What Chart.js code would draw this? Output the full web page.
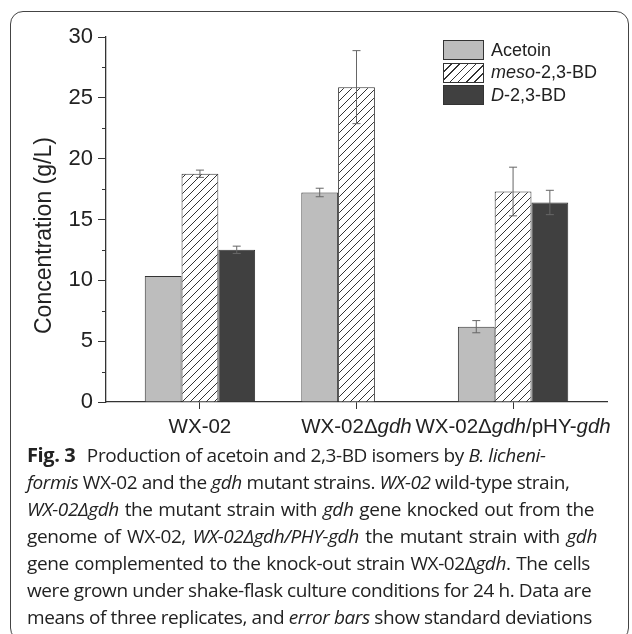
<!DOCTYPE html>
<html>
<head>
<meta charset="utf-8">
<script src="https://cdn.jsdelivr.net/npm/chart.js@4.4.1/dist/chart.umd.min.js"></script>
<style>
  body { margin: 0; background: #fff; width: 632px; height: 634px; overflow: hidden; position: relative; }
  #frame { position: absolute; left: 10px; top: 11px; width: 619px; height: 630px; border: 1.3px solid #444; border-radius: 13px; box-sizing: border-box; }
  #wrap { position: absolute; left: 0; top: 0; width: 632px; height: 445px; }
  #legend { position: absolute; left: 443px; top: 39px; font-family: 'Liberation Sans', Arial, sans-serif; font-size: 18px; color: #222; }
  .row { display: flex; align-items: center; height: 22.5px; }
  .box { width: 41px; height: 20px; border: 1px solid #333; box-sizing: border-box; margin-right: 7px; }
  #caption { position: absolute; left: 27px; top: 441px; font-family: 'Open Sans', sans-serif; font-size: 19px; line-height: 27px; color: #222; white-space: nowrap; letter-spacing: -0.4px; }
  #caption div { text-align: justify; text-align-last: justify; }
  #caption b { font-weight: 700; font-size: 20px; margin-right: 7px; }
</style>
</head>
<body>
<div id="frame"></div>
<div id="wrap"><canvas id="chart"></canvas></div>
<div id="legend">
  <div class="row"><div class="box" style="background:#bdbdbd"></div><span>Acetoin</span></div>
  <div class="row"><div class="box" style="background:repeating-linear-gradient(135deg,#fff 0,#fff 4.8px,#333 4.8px,#333 5.8px)"></div><span><i>meso</i>-2,3-BD</span></div>
  <div class="row"><div class="box" style="background:#404040"></div><span><i>D</i>-2,3-BD</span></div>
</div>
<div id="caption">
<div style="width:518px"><b>Fig. 3</b> Production of acetoin and 2,3-BD isomers by <i>B. licheni-</i></div>
<div style="width:538px"><i>formis</i> WX-02 and the <i>gdh</i> mutant strains. <i>WX-02</i> wild-type strain,</div>
<div style="width:567px"><i>WX-02Δgdh</i> the mutant strain with <i>gdh</i> gene knocked out from the</div>
<div style="width:570px">genome of WX-02, <i>WX-02Δgdh/PHY-gdh</i> the mutant strain with <i>gdh</i></div>
<div style="width:563px">gene complemented to the knock-out strain WX-02Δ<i>gdh</i>. The cells</div>
<div style="width:560px">were grown under shake-flask culture conditions for 24 h. Data are</div>
<div style="width:557px">means of three replicates, and <i>error bars</i> show standard deviations</div>
</div>
<script>
// strains on the x axis (label parts: [text, italic?])
const categories = [
  [['WX-02', false]],
  [['WX-02Δ', false], ['gdh', true]],
  [['WX-02Δ', false], ['gdh', true], ['/pHY-', false], ['gdh', true]]
];
const acetoin = [10.35, 17.22, 6.19];
const acetoinErr = [0, 0.35, 0.5];
const meso = [18.76, 25.88, 17.3];
const mesoErr = [0.3, 3.0, 2.0];
const dBD = [12.51, null, 16.4];
const dBDErr = [0.3, 0, 1.0];
const yTicks = [0, 5, 10, 15, 20, 25, 30];
const yMinor = [2.5, 7.5, 12.5, 17.5, 22.5, 27.5];

const FONT = "'Liberation Sans', Arial, sans-serif";

function hatch() {
  const c = document.createElement('canvas');
  c.width = 8; c.height = 8;
  const g = c.getContext('2d');
  g.fillStyle = '#fff';
  g.fillRect(0, 0, 8, 8);
  g.strokeStyle = '#333';
  g.lineWidth = 1;
  g.beginPath();
  g.moveTo(0, 8); g.lineTo(8, 0);
  g.moveTo(-1, 1); g.lineTo(1, -1);
  g.moveTo(7, 9); g.lineTo(9, 7);
  g.stroke();
  return g.createPattern(c, 'repeat');
}

const toPts = arr => arr.map((v, i) => ({ x: i, y: v }));
const errs = [acetoinErr, mesoErr, dBDErr];

const extras = {
  id: 'extras',
  afterDatasetsDraw(chart) {
    const ctx = chart.ctx, y = chart.scales.y;
    ctx.save();
    ctx.strokeStyle = '#666';
    ctx.lineWidth = 1;
    chart.data.datasets.forEach((ds, i) => {
      chart.getDatasetMeta(i).data.forEach((el, j) => {
        const v = ds.data[j].y, e = errs[i][j];
        if (v == null || !e) return;
        const t = y.getPixelForValue(v + e), b = y.getPixelForValue(v - e);
        ctx.beginPath();
        ctx.moveTo(el.x, t); ctx.lineTo(el.x, b);
        ctx.moveTo(el.x - 4, t); ctx.lineTo(el.x + 4, t);
        ctx.moveTo(el.x - 4, b); ctx.lineTo(el.x + 4, b);
        ctx.stroke();
      });
    });
    ctx.restore();
  },
  afterDraw(chart) {
    const ctx = chart.ctx, x = chart.scales.x, y = chart.scales.y, a = chart.chartArea;
    ctx.save();
    // minor ticks
    ctx.strokeStyle = '#333';
    ctx.lineWidth = 1;
    yMinor.forEach(v => {
      const p = Math.round(y.getPixelForValue(v)) + 0.5;
      ctx.beginPath(); ctx.moveTo(a.left - 4, p); ctx.lineTo(a.left, p); ctx.stroke();
    });
    // category labels with italic parts
    ctx.fillStyle = '#222';
    ctx.textBaseline = 'middle';
    ctx.textAlign = 'left';
    categories.forEach((parts, i) => {
      let w = 0;
      parts.forEach(([t, it]) => { ctx.font = (it ? 'italic ' : '') + '20.5px ' + FONT; w += ctx.measureText(t).width; });
      let cx = x.getPixelForValue(i) - w / 2;
      parts.forEach(([t, it]) => {
        ctx.font = (it ? 'italic ' : '') + '20.5px ' + FONT;
        ctx.fillText(t, cx, a.bottom + 25);
        cx += ctx.measureText(t).width;
      });
    });
    // y title
    ctx.translate(45, a.top + (a.bottom - a.top) * 0.544);
    ctx.rotate(-Math.PI / 2);
    ctx.textAlign = 'center';
    ctx.font = '23px ' + FONT;
    ctx.fillText('Concentration (g/L)', 0, 0);
    ctx.restore();
  }
};

new Chart(document.getElementById('chart'), {
  type: 'bar',
  data: {
    datasets: [
      { label: 'Acetoin', data: toPts(acetoin), backgroundColor: '#bdbdbd' },
      { label: 'meso-2,3-BD', data: toPts(meso), backgroundColor: hatch() },
      { label: 'D-2,3-BD', data: toPts(dBD), backgroundColor: '#404040' }
    ]
  },
  options: {
    responsive: true,
    maintainAspectRatio: false,
    animation: false,
    layout: { padding: { top: 37, right: 25, left: 0, bottom: 0 } },
    datasets: { bar: { borderColor: '#333', borderWidth: 1, categoryPercentage: 0.705, barPercentage: 1.0 } },
    plugins: { legend: { display: false }, tooltip: { enabled: false } },
    scales: {
      x: {
        type: 'linear', min: -0.6, max: 2.6, offset: false,
        afterBuildTicks: s => { s.ticks = categories.map((_, i) => ({ value: i })); },
        afterFit: s => { s.height = 43; },
        ticks: { callback: () => '' },
        grid: { offset: false, drawOnChartArea: false, tickLength: 7, color: '#333' },
        border: { color: '#333', width: 1.3 }
      },
      y: {
        min: 0, max: 30,
        afterBuildTicks: s => { s.ticks = yTicks.map(v => ({ value: v })); },
        afterFit: s => { s.width = 106; },
        ticks: { font: { family: FONT, size: 22 }, color: '#222', padding: 5 },
        grid: { drawOnChartArea: false, tickLength: 8, color: '#333' },
        border: { color: '#333', width: 1.3 }
      }
    }
  },
  plugins: [extras]
});
</script>
</body>
</html>
